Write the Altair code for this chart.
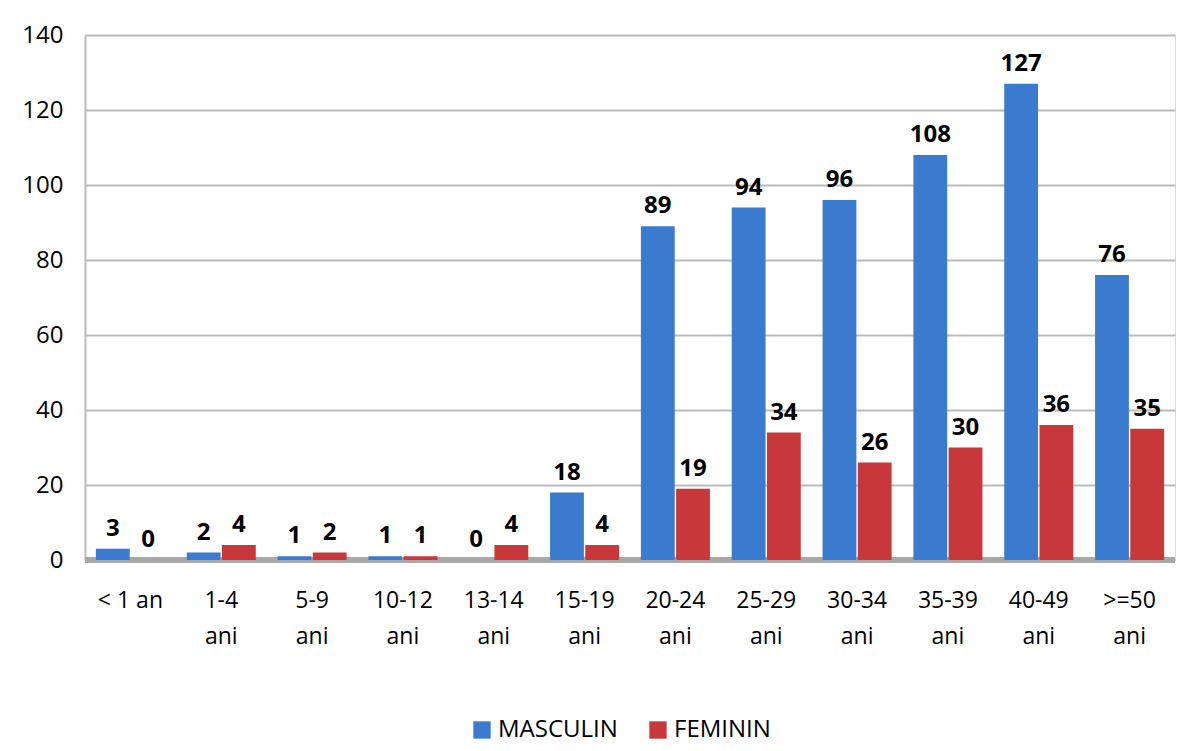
import altair as alt
import pandas as pd

categories = ["< 1 an", "1-4 ani", "5-9 ani", "10-12 ani", "13-14 ani", "15-19 ani",
              "20-24 ani", "25-29 ani", "30-34 ani", "35-39 ani", "40-49 ani", ">=50 ani"]
masculin = [3, 2, 1, 1, 0, 18, 89, 94, 96, 108, 127, 76]
feminin = [0, 4, 2, 1, 4, 4, 19, 34, 26, 30, 36, 35]
series = ["MASCULIN", "FEMININ"]
colors = ["#3B7BCF", "#C8373A"]

rows = []
for c, m, f in zip(categories, masculin, feminin):
    rows.append({"cat": c, "serie": "MASCULIN", "val": m})
    rows.append({"cat": c, "serie": "FEMININ", "val": f})
df = pd.DataFrame(rows)

FONT = "Open Sans"

x = alt.X("cat:N", sort=categories, title=None,
          scale=alt.Scale(paddingInner=0.24, paddingOuter=0.12),
          axis=alt.Axis(labelAngle=0, labelFontSize=23, labelColor="black", labelFont=FONT,
                        labelPadding=29, ticks=False, domain=False, labelLineHeight=36,
                        labelBaseline="top",
                        labelExpr="datum.value == '< 1 an' ? datum.value : split(datum.value, ' ')"))
y = alt.Y("val:Q", title=None,
          scale=alt.Scale(domain=[0, 140]),
          axis=alt.Axis(values=[0, 20, 40, 60, 80, 100, 120, 140], labelFontSize=24,
                        labelColor="black", labelFont=FONT, labelPadding=22, ticks=False,
                        domain=True, domainColor="#BBBBBB", domainWidth=2,
                        gridColor="#BBBBBB", gridWidth=2))
xo = alt.XOffset("serie:N", sort=series, scale=alt.Scale(paddingInner=0.04))
color = alt.Color("serie:N", sort=series, title=None,
                  scale=alt.Scale(domain=series, range=colors),
                  legend=alt.Legend(orient="none", legendX=385, legendY=683, direction="horizontal",
                                    symbolType="square", symbolSize=300, labelFontSize=24,
                                    labelFont=FONT, labelColor="black", columnPadding=28,
                                    symbolStrokeWidth=0))

base = alt.Chart(df)
floor = alt.Chart(pd.DataFrame({"v": [0]})).mark_rule(color="#A8A8A8", strokeWidth=6).encode(y="v:Q")
bars = base.mark_bar().encode(x=x, xOffset=xo, y=y, color=color)
labels = base.mark_text(baseline="bottom", dy=-8, fontSize=24, fontWeight="bold",
                        font=FONT, color="black").encode(
    x=alt.X("cat:N", sort=categories), xOffset=alt.XOffset("serie:N", sort=series),
    y="val:Q", text="val:Q")

chart = alt.layer(floor, bars, labels).properties(
    width=1090, height=525,
    autosize=alt.AutoSizeParams(type="none"),
    padding={"left": 77, "top": 27, "right": 17, "bottom": 183},
).configure_view(stroke=None).configure(background="white")

chart.save("out.html", embed_options={"renderer": "svg", "actions": False})
